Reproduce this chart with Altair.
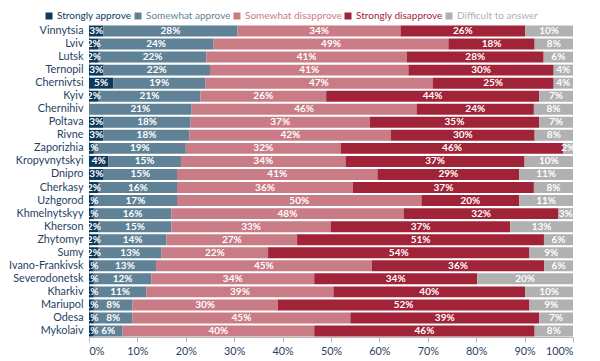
import altair as alt
import pandas as pd

cities = ["Vinnytsia", "Lviv", "Lutsk", "Ternopil", "Chernivtsi", "Kyiv", "Chernihiv",
          "Poltava", "Rivne", "Zaporizhia", "Kropyvnytskyi", "Dnipro", "Cherkasy",
          "Uzhgorod", "Khmelnytskyy", "Kherson", "Zhytomyr", "Sumy", "Ivano-Frankivsk",
          "Severodonetsk", "Kharkiv", "Mariupol", "Odesa", "Mykolaiv"]

categories = ["Strongly approve", "Somewhat approve", "Somewhat disapprove",
              "Strongly disapprove", "Difficult to answer"]

strongly_approve    = [3, 2, 2, 3, 5, 2, 0, 3, 3, 1, 4, 3, 2, 1, 1, 2, 2, 2, 1, 1, 1, 1, 1, 1]
somewhat_approve    = [28, 24, 22, 22, 19, 21, 21, 18, 18, 19, 15, 15, 16, 17, 16, 15, 14, 13, 13, 12, 11, 8, 8, 6]
somewhat_disapprove = [34, 49, 41, 41, 47, 26, 46, 37, 42, 32, 34, 41, 36, 50, 48, 33, 27, 22, 45, 34, 39, 30, 45, 40]
strongly_disapprove = [26, 18, 28, 30, 25, 44, 24, 35, 30, 46, 37, 29, 37, 20, 32, 37, 51, 54, 36, 34, 40, 52, 39, 46]
difficult           = [10, 8, 6, 4, 4, 7, 8, 7, 8, 2, 10, 11, 8, 11, 3, 13, 6, 9, 6, 20, 10, 9, 7, 8]

colors = ["#0d3a5c", "#5f8296", "#c97b86", "#a12338", "#b1b1b1"]
x_ticks = [0, 0.1, 0.2, 0.3, 0.4, 0.5, 0.6, 0.7, 0.8, 0.9, 1.0]

FONT = "Lato"

series = [strongly_approve, somewhat_approve, somewhat_disapprove, strongly_disapprove, difficult]
rows = []
for i, c in enumerate(cities):
    for j, (cat, vals) in enumerate(zip(categories, series)):
        rows.append({"city": c, "category": cat, "order": j, "value": vals[i]})
df = pd.DataFrame(rows)

label_expr = " : ".join(
    f"datum.label == '{cat}' ? '{col}'" for cat, col in zip(categories, colors)
) + " : '#333333'"

base = (
    alt.Chart(df)
    .transform_joinaggregate(total="sum(value)", groupby=["city"])
    .transform_calculate(pct="datum.value / datum.total")
    .transform_window(cum="sum(pct)", groupby=["city"],
                      sort=[alt.SortField("order")], frame=[None, 0])
    .transform_calculate(start="datum.cum - datum.pct",
                         mid="datum.cum - datum.pct / 2",
                         label="datum.value + '%'")
)

yenc = alt.Y("city:N", sort=cities, title=None,
             scale=alt.Scale(paddingInner=0.16, paddingOuter=0.04),
             axis=alt.Axis(ticks=False, domainColor="#b8b8b8", labelColor="#1f3f63",
                           labelFont=FONT, labelFontSize=10.8, labelPadding=6))

bars = base.mark_bar().encode(
    x=alt.X("start:Q", title=None, scale=alt.Scale(domain=[0, 1], nice=False),
            axis=alt.Axis(format="%", values=x_ticks, grid=False, domainColor="#b8b8b8",
                          tickColor="#b8b8b8", tickSize=5, labelColor="#1f3f63",
                          labelFont=FONT, labelFontSize=10.8, labelPadding=3)),
    x2="cum:Q",
    y=yenc,
    color=alt.Color("category:N", sort=categories,
                    scale=alt.Scale(domain=categories, range=colors),
                    legend=alt.Legend(title=None, orient="none", direction="horizontal",
                                      legendX=-45, legendY=-14, symbolType="square",
                                      symbolSize=49, symbolStrokeWidth=0,
                                      labelFont=FONT, labelFontSize=10,
                                      labelColor=alt.ExprRef(label_expr),
                                      gridAlign="none", columnPadding=1, labelOffset=3)),
    order=alt.Order("order:Q"),
)

texts = base.transform_filter("datum.value > 0").mark_text(
    color="white", font=FONT, fontWeight="bold", fontSize=10
).encode(
    x="mid:Q",
    y=alt.Y("city:N", sort=cities),
    text="label:N",
)

chart = (
    alt.layer(bars, texts)
    .properties(width=484, height=312,
                padding={"left": 0, "top": 3, "right": 5, "bottom": 0})
    .configure_view(stroke=None)
)

chart.save("out.html", embed_options={"renderer": "svg", "actions": False})
